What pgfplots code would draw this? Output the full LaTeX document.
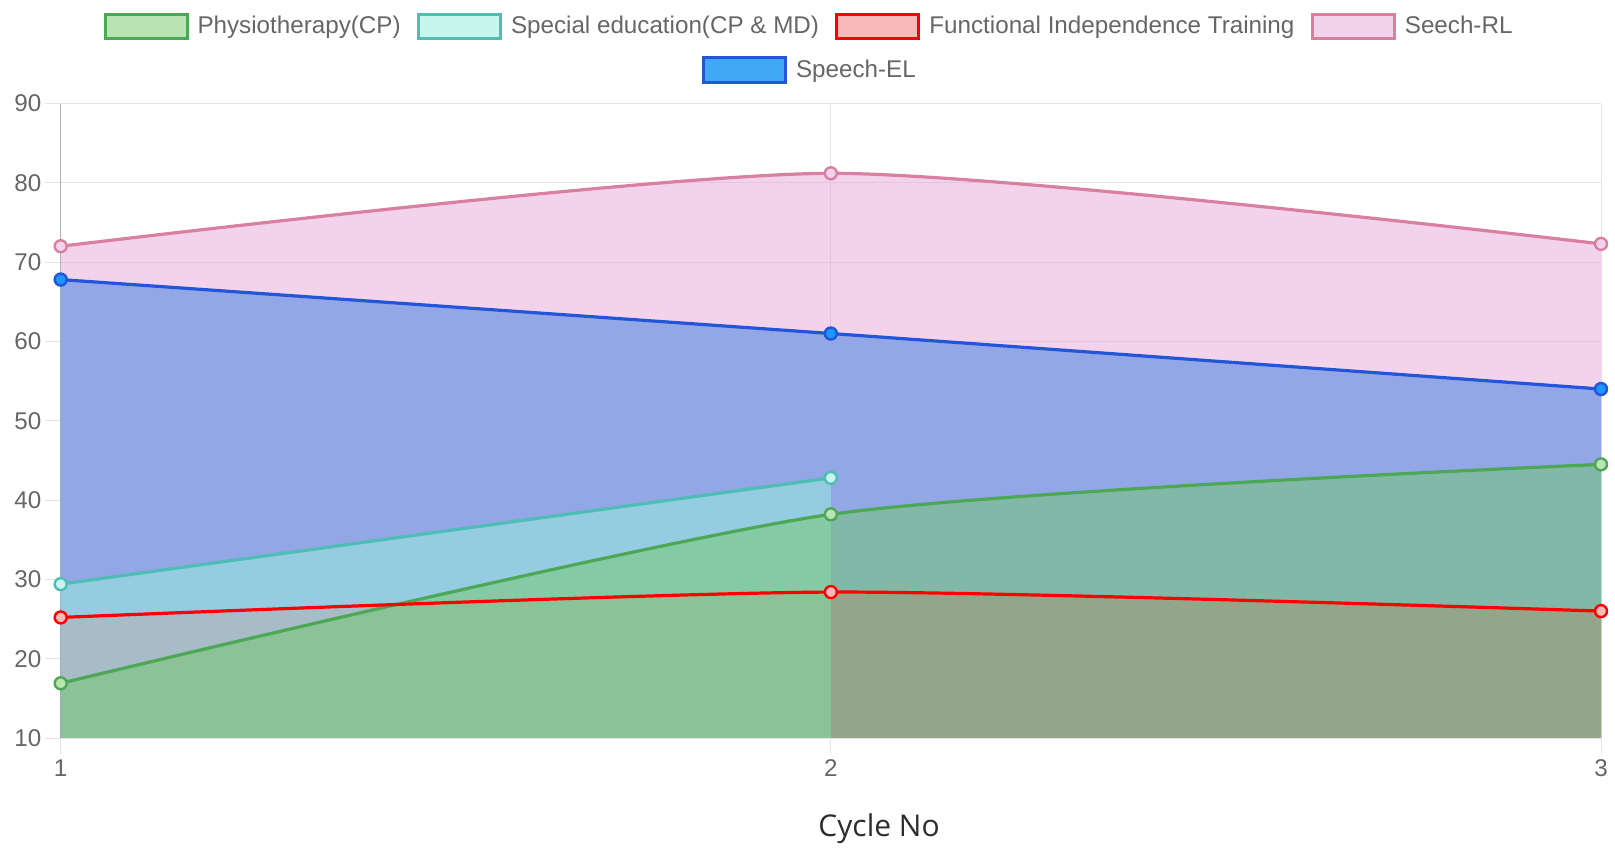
\documentclass[border=0pt]{standalone}
\usepackage{pgfplots}
\usepackage{pgfplotstable}
\pgfplotsset{compat=1.18}
\usepackage{fontspec}
\setmainfont{Liberation Sans}
\newfontfamily\labelfont{Open Sans}
\definecolor{physLine}{RGB}{76,168,84}
\definecolor{physFill}{RGB}{115,201,105}
\definecolor{seLine}{RGB}{78,190,180}
\definecolor{seFill}{RGB}{154,237,224}
\definecolor{fitLine}{RGB}{255,0,0}
\definecolor{fitFill}{RGB}{237,80,80}
\definecolor{rlLine}{RGB}{217,128,160}
\definecolor{rlFill}{RGB}{231,167,217}
\definecolor{elLine}{RGB}{35,85,215}
\definecolor{elFill}{RGB}{64,168,245}
\definecolor{elMark}{RGB}{30,150,255}
\definecolor{physMark}{RGB}{185,228,180}
\definecolor{seMark}{RGB}{200,245,238}
\definecolor{fitMark}{RGB}{248,185,185}
\definecolor{rlMark}{RGB}{243,211,236}
\definecolor{tickgray}{RGB}{102,102,102}
\definecolor{gridgray}{RGB}{228,228,228}
\definecolor{axisgray}{RGB}{175,175,175}
\definecolor{labelgray}{RGB}{45,45,45}
\newcommand\tickfont{\fontsize{12.1bp}{14bp}\selectfont}

\pgfplotstableread{
x y
1 16.9
2 38.2
3 44.5
}\tabPhysio
\pgfplotstableread{
x y
1 29.4
2 42.8
}\tabSpecial
\pgfplotstableread{
x y
1 25.2
2 28.4
3 26.0
}\tabFit
\pgfplotstableread{
x y
1 72.0
2 81.2
3 72.3
}\tabRL
\pgfplotstableread{
x y
1 67.8
2 61.0
3 54.0
}\tabEL

\pgfplotsset{
  common/.style={
    at={(30.35bp,56bp)}, anchor=south west,
    scale only axis, width=770.15bp, height=317.25bp,
    xmin=1, xmax=3, ymin=10, ymax=90,
  },
  legbox/.style n args={2}{legend image code/.code={\draw[draw=#1, fill=#2, line width=1.5bp] (0bp,-6.2bp) rectangle (41bp,6.2bp);}},
  mylegend/.style={
    draw=none, fill=none, inner sep=0pt, outer sep=0pt,
    font=\tickfont, text=tickgray,
    nodes={inner sep=0pt},
    /tikz/every odd column/.append style={column sep=4.5bp},
    /tikz/every even column/.append style={column sep=8.2bp},
  },
}

\begin{document}
\begin{tikzpicture}
\useasboundingbox (0,0) rectangle (807.5bp,425bp);
\begin{axis}[
  common,
  xtick={1,2,3}, ytick={10,20,...,90},
  grid=major, major grid style={draw=gridgray, line width=0.5bp},
  axis lines*=left,
  x axis line style={draw=gridgray, line width=0.5bp},
  y axis line style={draw=axisgray, line width=0.5bp},
  tick style={draw=gridgray, line width=0.5bp},
  tick align=outside, major tick length=8bp,
  /pgf/number format/assume math mode=true,
  ticklabel style={font=\tickfont, text=tickgray, inner sep=0pt},
  yticklabel style={anchor=east, xshift=-1.5bp},
  xticklabel style={anchor=north, yshift=-2.5bp},
  xlabel={\labelfont Cycle No},
  xlabel style={at={(axis description cs:0.5313,-0.1556)}, anchor=base, font=\fontsize{15bp}{18bp}\selectfont, text=labelgray, inner sep=0pt},
  legend columns=4,
  legend cell align=left,
  legend style={mylegend, at={(axis description cs:0.0278,1.1215)}, anchor=west},
]
% fills (bottom to top)
\addplot[draw=none, fill=elFill, smooth, tension=0.4, forget plot] table {\tabEL} \closedcycle;
\addplot[draw=none, fill=rlFill, fill opacity=0.5, smooth, tension=0.4, forget plot] table {\tabRL} \closedcycle;
\addplot[draw=none, fill=fitFill, fill opacity=0.4, smooth, tension=0.4, forget plot] table {\tabFit} \closedcycle;
\addplot[draw=none, fill=seFill, fill opacity=0.54, smooth, tension=0.4, forget plot] table {\tabSpecial} \closedcycle;
\addplot[draw=none, fill=physFill, fill opacity=0.5, smooth, tension=0.4, forget plot] table {\tabPhysio} \closedcycle;
% lines
\addplot[elLine, line width=1.6bp, smooth, tension=0.4, mark=*, mark size=3bp, mark options={fill=elMark, draw=elLine, line width=1.2bp}, forget plot] table {\tabEL};
\addplot[rlLine, line width=1.6bp, smooth, tension=0.4, mark=*, mark size=3bp, mark options={fill=rlMark, draw=rlLine, line width=1.2bp}, forget plot] table {\tabRL};
\addplot[seLine, line width=1.6bp, smooth, tension=0.4, mark=*, mark size=3bp, mark options={fill=seMark, draw=seLine, line width=1.2bp}, forget plot] table {\tabSpecial};
\addplot[physLine, line width=1.6bp, smooth, tension=0.4, mark=*, mark size=3bp, mark options={fill=physMark, draw=physLine, line width=1.2bp}, forget plot] table {\tabPhysio};
\addplot[fitLine, line width=1.6bp, smooth, tension=0.4, mark=*, mark size=3bp, mark options={fill=fitMark, draw=fitLine, line width=1.2bp}, forget plot] table {\tabFit};
% legend row 1
\addlegendimage{legbox={physLine}{physMark}}
\addlegendentry{Physiotherapy(CP)}
\addlegendimage{legbox={seLine}{seMark}}
\addlegendentry{Special education(CP \& MD)}
\addlegendimage{legbox={fitLine}{fitMark}}
\addlegendentry{Functional Independence Training}
\addlegendimage{legbox={rlLine}{rlMark}}
\addlegendentry{Seech-RL}
\end{axis}
\begin{axis}[
  common, hide axis,
  legend style={mylegend, at={(axis description cs:0.4164,1.053)}, anchor=west},
]
\addlegendimage{legbox={elLine}{elFill}}
\addlegendentry{Speech-EL}
\end{axis}
\end{tikzpicture}
\end{document}
